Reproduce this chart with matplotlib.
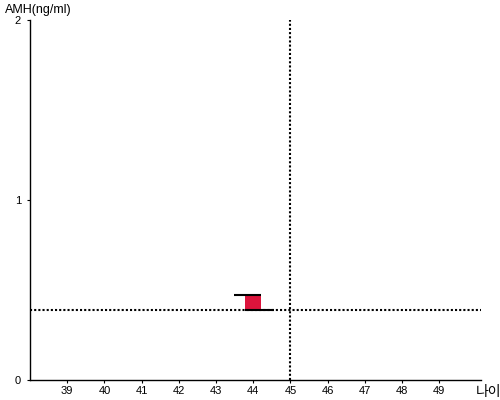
import matplotlib
matplotlib.use("Agg")
import matplotlib.pyplot as plt
from matplotlib.patches import Rectangle

plt.rcParams['font.family'] = ['Liberation Sans', 'Noto Sans CJK KR', 'DejaVu Sans']

# data
x_ticks = [39, 40, 41, 42, 43, 44, 45, 46, 47, 48, 49]
y_ticks = [0, 1, 2]
age = 44
amh_low = 0.39
amh_high = 0.47
ref_age = 45
ref_amh = 0.39

fig = plt.figure(figsize=(5, 4), dpi=100)
ax = fig.add_axes([0.06, 0.05, 0.902, 0.9])
ax.set_xlim(38, 50.12)
ax.set_ylim(0, 2)

# reference lines
ax.axhline(ref_amh, color='black', lw=1.5, ls=(0, (1, 1)))
ax.axvline(ref_age, color='black', lw=1.5, ls=(0, (1, 1)))

# marker box
ax.add_patch(Rectangle((age - 0.21, amh_low), 0.43, amh_high - amh_low,
                       facecolor='#dc143c', edgecolor='none', zorder=3))
ax.plot([age - 0.53, age + 0.22], [amh_high, amh_high], color='black', lw=1.5, zorder=4,
        solid_capstyle='butt')
ax.plot([age - 0.21, age + 0.55], [amh_low, amh_low], color='black', lw=1.5, zorder=4,
        solid_capstyle='butt')

ax.set_xticks(x_ticks)
ax.set_yticks(y_ticks)
ax.tick_params(axis='x', length=2.5, width=0.8, pad=2, labelsize=8)
ax.tick_params(axis='y', length=2.5, width=0.8, pad=4, labelsize=8)
for s in ['top', 'right']:
    ax.spines[s].set_visible(False)
for s in ['left', 'bottom']:
    ax.spines[s].set_linewidth(1.0)

fig.text(0.01, 0.975, 'AMH(ng/ml)', fontsize=9, va='center', ha='left')
fig.text(0.952, 0.021, '나이', fontsize=10, va='center', ha='left')

fig.savefig('out.png', dpi=100)
